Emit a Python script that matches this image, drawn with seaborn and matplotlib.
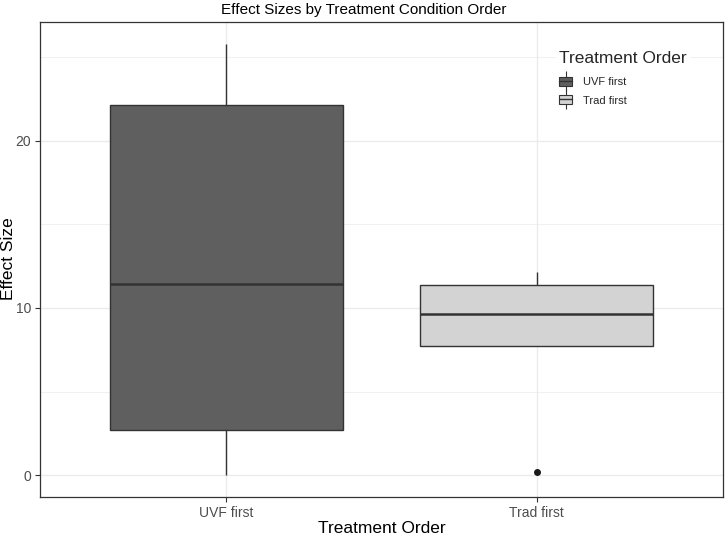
import numpy as np
import pandas as pd
import matplotlib
matplotlib.use("Agg")
import matplotlib.pyplot as plt
from matplotlib.patches import Patch
from matplotlib.lines import Line2D
from matplotlib.legend_handler import HandlerTuple
import seaborn as sns

# Data: values reproducing each box's quartiles/whiskers
uvf_first = [0.0, 2.69, 11.46, 22.1, 25.79]
trad_first = [0.18, 7.70, 9.65, 11.40, 12.14]
categories = ["UVF first", "Trad first"]
fill_colors = ["#5f5f5f", "#d3d3d3"]
y_ticks = [0, 10, 20]

df = pd.DataFrame({
    "Treatment Order": [categories[0]] * len(uvf_first) + [categories[1]] * len(trad_first),
    "Effect Size": uvf_first + trad_first,
})

sns.set_style("white")
plt.rcParams["font.family"] = ["Liberation Sans", "DejaVu Sans"]

fig = plt.figure(figsize=(7.25, 5.35), dpi=100)
ax = fig.add_axes([40 / 725, 38 / 535, 683 / 725, 475 / 535])

ax.set_axisbelow(True)
for v in [5, 15, 25]:
    ax.axhline(v, color="#f0f0f0", lw=0.7, zorder=0)
for v in y_ticks:
    ax.axhline(v, color="#ebebeb", lw=1.0, zorder=0)
for i in range(len(categories)):
    ax.axvline(i, color="#ebebeb", lw=1.0, zorder=0)

sns.boxplot(
    data=df, x="Treatment Order", y="Effect Size", hue="Treatment Order",
    order=categories, hue_order=categories, palette=fill_colors,
    width=0.75, dodge=False, linecolor="#333333", linewidth=1.0,
    whis=1.5, legend=False, ax=ax,
    medianprops=dict(color="#333333", linewidth=1.8),
    whiskerprops=dict(color="#333333", linewidth=1.0),
    capprops=dict(linewidth=0),
    flierprops=dict(marker="o", markersize=4, markerfacecolor="#1a1a1a",
                    markeredgecolor="#1a1a1a"),
    boxprops=dict(edgecolor="#333333"),
)

ax.set_xlim(-0.6, 1.6)
ax.set_ylim(-1.29, 27.08)
ax.set_yticks(y_ticks)
ax.set_yticklabels([str(t) for t in y_ticks])
ax.tick_params(axis="both", length=3.5, width=0.8, color="#333333",
               labelsize=10, labelcolor="#4d4d4d", direction="out",
               left=True, bottom=True, pad=3)
for s in ax.spines.values():
    s.set_visible(True)
    s.set_color("#333333")
    s.set_linewidth(0.9)

ax.set_xlabel("Treatment Order", fontsize=12.5, color="black", labelpad=1)
ax.set_ylabel("")
fig.text(9 / 725, 1 - 259 / 535, "Effect Size", rotation=90, ha="center",
         va="center", fontsize=12.5, color="black")

fig.text(364 / 725, 1 - 10 / 535, "Effect Sizes by Treatment Condition Order",
         ha="center", va="center", fontsize=11, color="black")

handles = []
for c in fill_colors:
    whisk = Line2D([], [], marker="|", markersize=14, markeredgewidth=0.8,
                   color="#333333", linestyle="none")
    box = Patch(facecolor=c, edgecolor="#333333", linewidth=0.8)
    med = Line2D([], [], color="#333333", linewidth=1.0)
    handles.append((whisk, box, med))
leg = ax.legend(handles, categories, title="Treatment Order",
                handler_map={tuple: HandlerTuple(ndivide=1, pad=0)},
                loc="upper left", bbox_to_anchor=(550 / 725, 1 - 42 / 535),
                bbox_transform=fig.transFigure, frameon=True,
                fontsize=8, title_fontsize=12.5,
                handlelength=1.2, handleheight=0.9, handletextpad=1.0,
                labelspacing=0.7, borderpad=0.3, alignment="left")
leg._legend_box.sep = 8
leg.get_frame().set_facecolor("white")
leg.get_frame().set_edgecolor("none")
leg.get_frame().set_alpha(1.0)

fig.savefig("out.png", dpi=100, facecolor="white")
